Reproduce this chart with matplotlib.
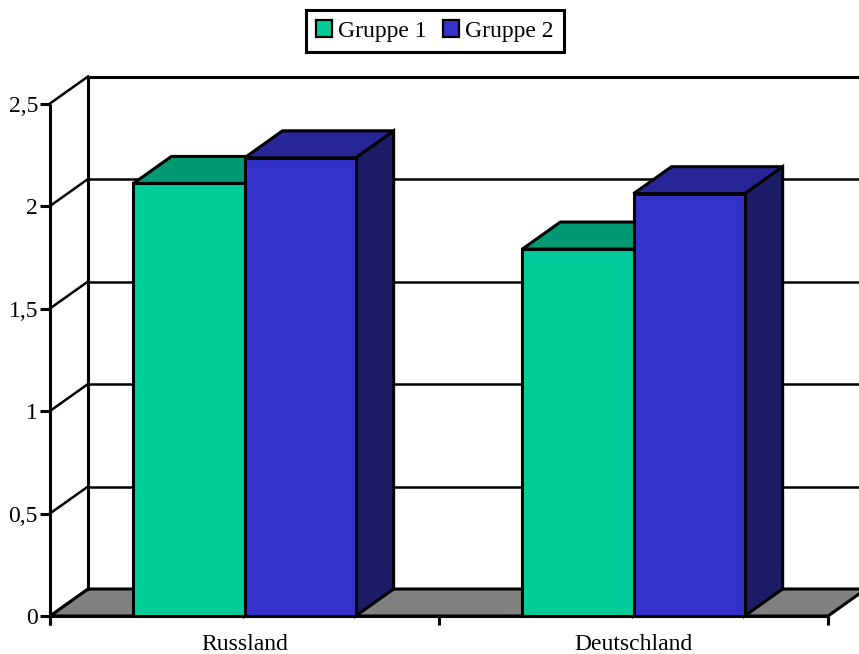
import matplotlib
matplotlib.use("Agg")
import matplotlib.pyplot as plt
from matplotlib.patches import Polygon, Patch

# Data
categories = ["Russland", "Deutschland"]
series_names = ["Gruppe 1", "Gruppe 2"]
gruppe1 = [2.11, 1.79]
gruppe2 = [2.235, 2.06]
y_ticks = [0, 0.5, 1, 1.5, 2, 2.5]
y_tick_labels = ["0", "0,5", "1", "1,5", "2", "2,5"]

# Style
front_colors = ["#00CC99", "#3333CC"]
top_colors = ["#009973", "#262699"]
side_colors = ["#007357", "#1C1C66"]
floor_color = "#808080"
font = ["Liberation Serif", "DejaVu Serif"]
fs = 17

W, H, DPI = 859, 654, 100
fig = plt.figure(figsize=(W / DPI, H / DPI), dpi=DPI)
ax = fig.add_axes([0, 0, 1, 1])
ax.axis("off")

# Scales: one category = 389 px, one value unit = 205 px
px_x = 389.0
px_y = 205.0
ax.set_xlim(-0.5 - 50 / px_x, -0.5 + (W - 50) / px_x)
ax.set_ylim((616 - H) / px_y, 616 / px_y)

# Depth offset of the 3D box
dx = 38 / px_x
dy = 27 / px_y
x_left, x_right = -0.5, len(categories) - 0.5
y_max = y_ticks[-1]

lw_main = 2.2
lw_grid = 1.8

# Floor
ax.add_patch(Polygon([(x_left, 0), (x_right, 0), (x_right + dx, dy), (x_left + dx, dy)],
                     closed=True, facecolor=floor_color, edgecolor="black",
                     linewidth=lw_main, zorder=1, joinstyle="miter"))

# Back wall gridlines and side-wall diagonals
for v in y_ticks[1:]:
    ax.plot([x_left + dx, x_right + dx], [v + dy, v + dy], color="black",
            lw=lw_main if v == y_max else lw_grid, zorder=1, solid_capstyle="butt")
for v in y_ticks:
    ax.plot([x_left, x_left + dx], [v, v + dy], color="black", lw=lw_grid, zorder=1)
# Back wall left edge
ax.plot([x_left + dx, x_left + dx], [dy, y_max + dy], color="black", lw=lw_main, zorder=1)
# Front value axis
tick_down = 9 / px_y
ax.plot([x_left, x_left], [-tick_down, y_max], color="black", lw=lw_main, zorder=4,
        solid_capstyle="butt")
tick_left = 10 / px_x
for v, lab in zip(y_ticks, y_tick_labels):
    ax.plot([x_left - tick_left, x_left], [v, v], color="black", lw=lw_main, zorder=4,
            solid_capstyle="butt")
    ax.text(x_left - 12 / px_x, v - 8 / px_y, lab, ha="right", va="baseline",
            family=font, fontsize=fs)

# Category axis (front edge of floor) with separators
ax.plot([x_left, x_right], [0, 0], color="black", lw=lw_main, zorder=4, solid_capstyle="butt")
for i in range(len(categories) + 1):
    xb = x_left + i
    ax.plot([xb, xb], [-tick_down, 0], color="black", lw=lw_main, zorder=4,
            solid_capstyle="butt")
for i, cat in enumerate(categories):
    ax.text(i, -34 / px_y, cat, ha="center", va="baseline", family=font, fontsize=fs)

# Bars as 3D boxes (gap width 150 %)
bar_w = 1 / 3.5
series = [gruppe1, gruppe2]
z = 5
for ci in range(len(categories)):
    for si, vals in enumerate(series):
        v = vals[ci]
        x0 = ci - bar_w + si * bar_w
        x1 = x0 + bar_w
        side = Polygon([(x1, 0), (x1 + dx, dy), (x1 + dx, v + dy), (x1, v)], closed=True,
                       facecolor=side_colors[si], edgecolor="black", linewidth=lw_main,
                       zorder=z, joinstyle="miter")
        top = Polygon([(x0, v), (x1, v), (x1 + dx, v + dy), (x0 + dx, v + dy)], closed=True,
                      facecolor=top_colors[si], edgecolor="black", linewidth=lw_main,
                      zorder=z, joinstyle="miter")
        ax.add_patch(side)
        ax.add_patch(top)
        ax.bar(x0, v, width=bar_w, align="edge", color=front_colors[si],
               edgecolor="black", linewidth=lw_main, zorder=z + 0.5)
        z += 1

# Legend
handles = [Patch(facecolor=c, edgecolor="black", linewidth=1.6) for c in front_colors]
leg = ax.legend(handles, series_names, loc="center", bbox_to_anchor=(435 / W, 1 - 31 / H),
                ncol=2, frameon=True, fancybox=False, framealpha=1, edgecolor="black",
                prop={"family": font, "size": fs}, handlelength=0.68, handleheight=0.68,
                handletextpad=0.25, columnspacing=0.7, borderpad=0.45, borderaxespad=0)
leg.get_frame().set_linewidth(2.2)

fig.savefig("out.png", dpi=DPI)
